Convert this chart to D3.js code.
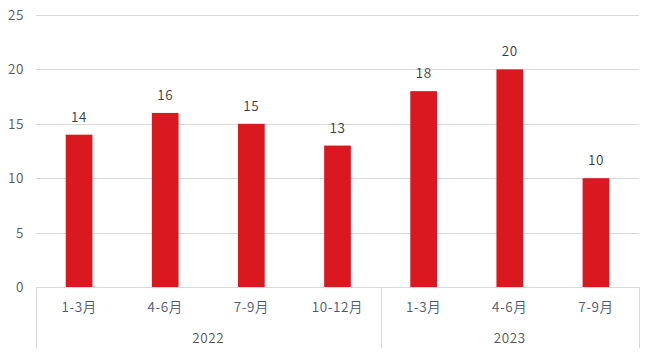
<!DOCTYPE html>
<html><head><meta charset="utf-8">
<script src="https://cdn.jsdelivr.net/npm/d3@7"></script>
<style>body{margin:0;background:#fff;}svg{display:block;font-family:"Noto Sans CJK JP","Noto Sans",sans-serif;font-weight:350;letter-spacing:0.6px;}</style>
</head><body>
<svg id="c" width="654" height="355"></svg>
<script>
const categories = ["1-3月","4-6月","7-9月","10-12月","1-3月","4-6月","7-9月"];
const years = ["2022","2022","2022","2022","2023","2023","2023"];
const values = [14,16,15,13,18,20,10];
const yTicks = [0,5,10,15,20,25];

(function(){
const svg = d3.select("#c");
const mL = 36, mR = 639, mT = 15, mB = 287;
const fs = 13.5;
const ids = categories.map((d,i)=>i);
const x = d3.scaleBand().domain(ids).range([mL,mR]).paddingInner(0.69).paddingOuter(0.345);
const xb = d3.scaleBand().domain(ids).range([mL,mR]);
const y = d3.scaleLinear().domain([0,25]).range([mB,mT]);

svg.append("g").selectAll("line").data(yTicks.filter(t=>t>0)).join("line")
  .attr("x1",mL).attr("x2",mR).attr("y1",d=>Math.round(y(d))+0.5).attr("y2",d=>Math.round(y(d))+0.5)
  .attr("stroke","#d9d9d9").attr("stroke-width",1);

svg.append("g").selectAll("text").data(yTicks).join("text")
  .attr("x",24).attr("y",d=>y(d)+5).attr("text-anchor","end")
  .attr("font-size",fs).attr("fill","#595959").text(d=>d);

svg.append("g").selectAll("rect").data(values).join("rect")
  .attr("x",(d,i)=>x(i)).attr("width",x.bandwidth())
  .attr("y",d=>y(d)).attr("height",d=>mB-y(d)).attr("fill","#d9191f");

svg.append("g").selectAll("text").data(values).join("text")
  .attr("x",(d,i)=>x(i)+x.bandwidth()/2).attr("y",d=>y(d)-13)
  .attr("text-anchor","middle").attr("font-size",fs).attr("fill","#404040").text(d=>d);

svg.append("line").attr("x1",mL).attr("x2",mR).attr("y1",mB+0.5).attr("y2",mB+0.5)
  .attr("stroke","#d9d9d9");

svg.append("g").selectAll("text").data(categories).join("text")
  .attr("x",(d,i)=>xb(i)+xb.bandwidth()/2).attr("y",312)
  .attr("text-anchor","middle").attr("font-size",fs).attr("fill","#4d5a6e").text(d=>d);

const groups = Array.from(d3.group(ids, i=>years[i]), ([k,v])=>({year:k, start:d3.min(v), end:d3.max(v)}));
const bounds = [xb(0)];
groups.forEach(g=>bounds.push(xb(g.end)+xb.bandwidth()));
svg.append("g").selectAll("line").data(bounds).join("line")
  .attr("x1",d=>Math.round(d)+0.5).attr("x2",d=>Math.round(d)+0.5).attr("y1",mB).attr("y2",348)
  .attr("stroke","#d9d9d9");
svg.append("g").selectAll("text").data(groups).join("text")
  .attr("x",g=>(xb(g.start)+xb(g.end)+xb.bandwidth())/2).attr("y",343)
  .attr("text-anchor","middle").attr("font-size",fs).attr("fill","#595959").text(g=>g.year);
})();
</script>
</body></html>
